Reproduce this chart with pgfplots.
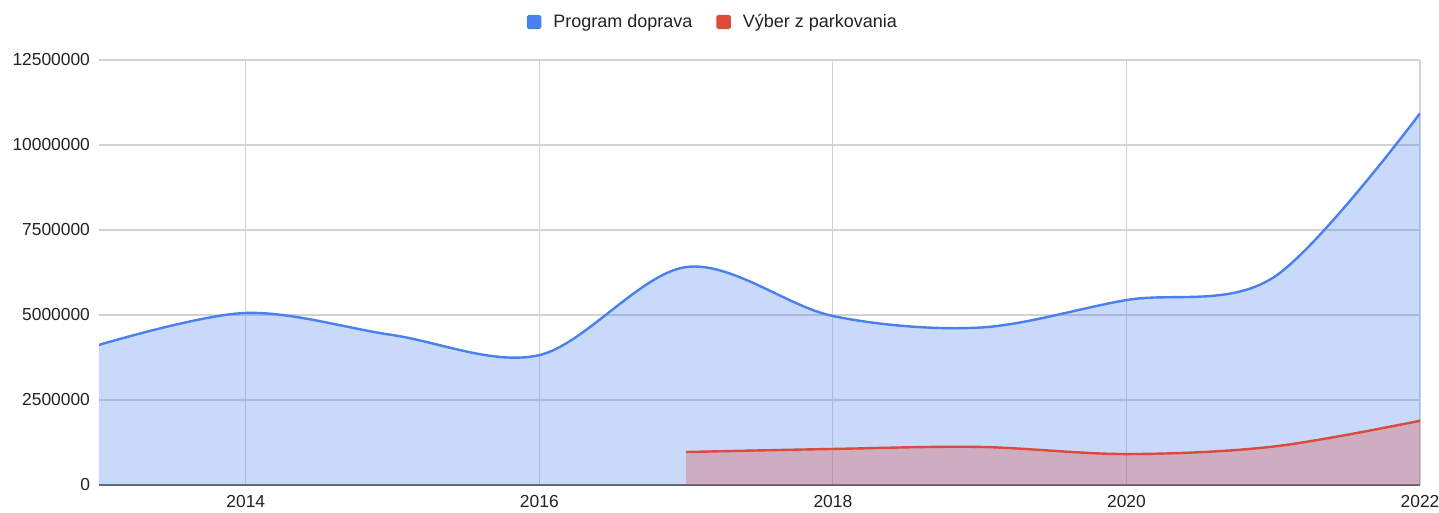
\documentclass[border=0pt]{standalone}
\usepackage{pgfplots}
\pgfplotsset{compat=1.18}
\usepackage{fontspec}
\setmainfont{Liberation Sans}
\definecolor{gblue}{HTML}{4A80EE}
\definecolor{gred}{HTML}{DB4A3A}
\definecolor{gridc}{HTML}{D3D3D3}
\definecolor{txt}{HTML}{222222}
\begin{document}
\begin{tikzpicture}
\begin{axis}[
  scale only axis, width=660.5pt, height=212.5pt,
  xmin=2013, xmax=2022, ymin=0, ymax=12500000,
  xtick={2014,2016,2018,2020,2022},
  ytick={0,2500000,5000000,7500000,10000000,12500000},
  scaled y ticks=false, scaled x ticks=false,
  /pgf/number format/.cd, 1000 sep={}, fixed, assume math mode=true, /pgfplots/.cd,
  axis line style={draw=none},
  grid=major, major grid style={draw=gridc, line width=0.6pt},
  extra y ticks={0}, extra y tick labels={},
  extra y tick style={grid=major, major grid style={draw=black!60, line width=0.8pt}},
  major tick length=0pt, tick style={draw=none},
  tick label style={font=\fontsize{8.7}{10}\selectfont, text=txt},
  xticklabel style={yshift=-1.5pt},
  yticklabel style={xshift=-1pt},
  legend style={at={(0.4655,1.0894)}, anchor=center, draw=none, fill=none,
    legend columns=2, font=\fontsize{9}{10}\selectfont, text=txt,
    /tikz/every odd column/.append style={column sep=4pt},
    /tikz/every even column/.append style={column sep=10pt}},
  legend cell align=left,
]
\addplot[fill=gblue, fill opacity=0.3, draw=none, smooth, tension=0.55, forget plot] coordinates {
 (2013,4120000) (2014,5060000) (2015,4410000) (2016,3820000) (2017,6410000)
 (2018,4970000) (2019,4630000) (2020,5440000) (2021,6100000) (2022,10930000)} \closedcycle;
\addplot[fill=gred, fill opacity=0.3, draw=none, smooth, tension=0.55, forget plot] coordinates {
 (2017,970000) (2018,1060000) (2019,1120000) (2020,910000) (2021,1130000) (2022,1890000)} \closedcycle;
\addplot[gblue, line width=1.2pt, smooth, tension=0.55, forget plot] coordinates {
 (2013,4120000) (2014,5060000) (2015,4410000) (2016,3820000) (2017,6410000)
 (2018,4970000) (2019,4630000) (2020,5440000) (2021,6100000) (2022,10930000)};
\addplot[gred, line width=1.2pt, smooth, tension=0.55, forget plot] coordinates {
 (2017,970000) (2018,1060000) (2019,1120000) (2020,910000) (2021,1130000) (2022,1890000)};
\addlegendimage{legend image code/.code={\fill[gblue, rounded corners=0.8pt] (0pt,-3.4pt) rectangle (6.8pt,3.4pt);}}
\addlegendentry{Program doprava}
\addlegendimage{legend image code/.code={\fill[gred, rounded corners=0.8pt] (0pt,-3.4pt) rectangle (6.8pt,3.4pt);}}
\addlegendentry{Výber z parkovania}
\end{axis}
\pgfresetboundingbox
\path[use as bounding box] ([xshift=-49.5pt,yshift=-14pt]current axis.south west) rectangle ([xshift=9.5pt,yshift=30pt]current axis.north east);
\end{tikzpicture}
\end{document}
